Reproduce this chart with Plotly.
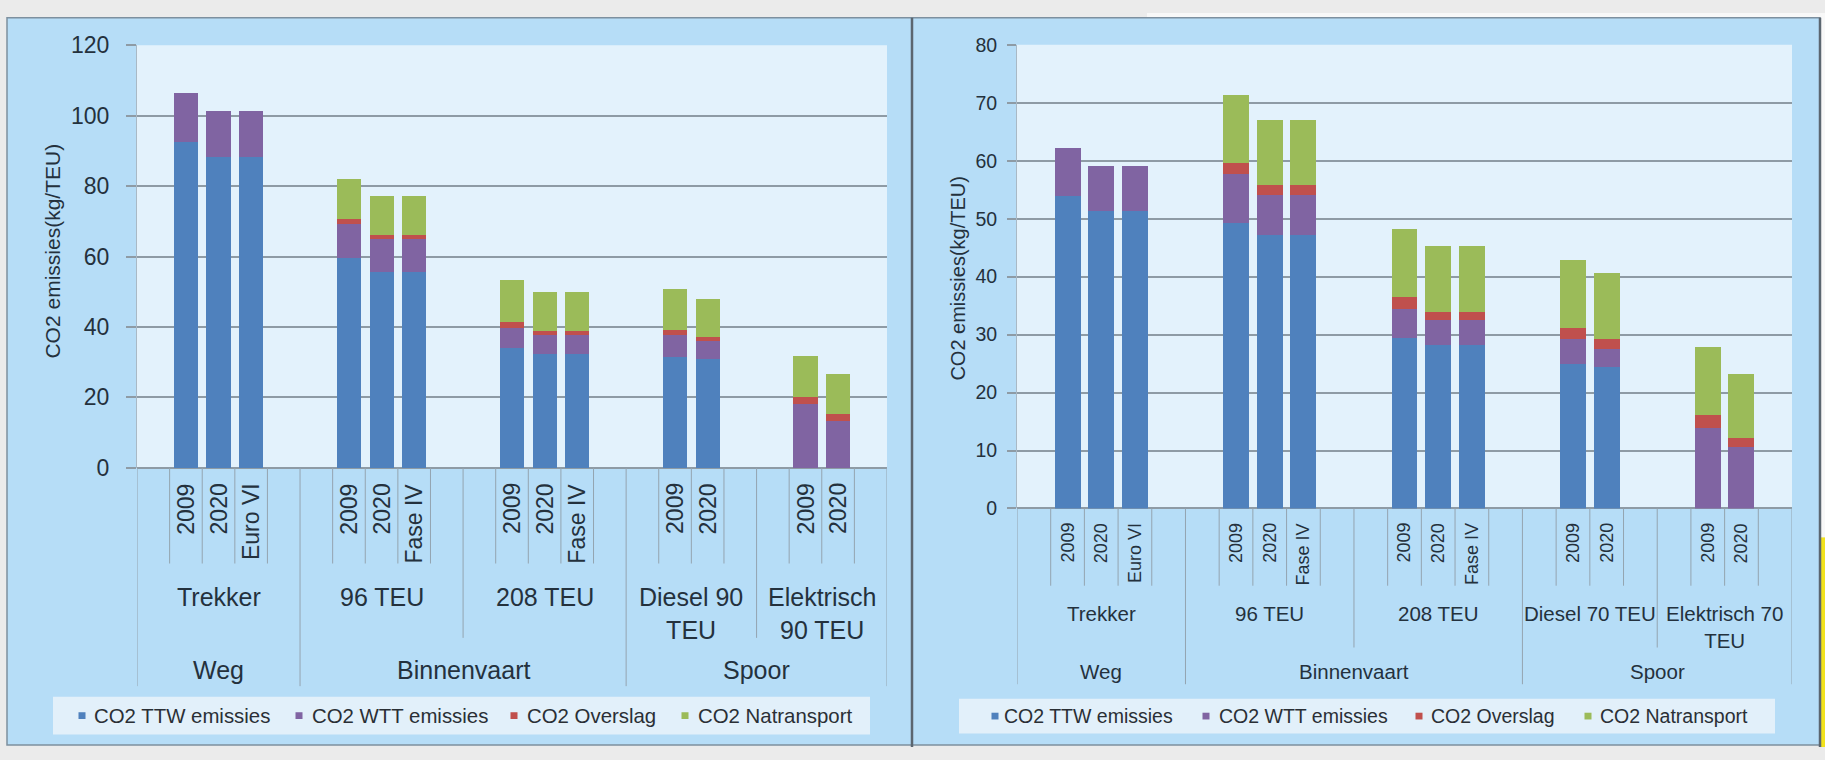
import plotly.graph_objects as go

W, H = 1825, 760

# ---- data -------------------------------------------------------------
SERIES = ["CO2 TTW emissies", "CO2 WTT emissies", "CO2 Overslag", "CO2 Natransport"]
COLORS = ["#4f81bd", "#8064a2", "#c0504d", "#9bbb59"]

groups = ["Weg", "Binnenvaart", "Spoor"]
subgroup_group = [0, 1, 1, 2, 2]
bar_labels = [
    ["2009", "2020", "Euro VI"],
    ["2009", "2020", "Fase IV"],
    ["2009", "2020", "Fase IV"],
    ["2009", "2020"],
    ["2009", "2020"],
]

subgroups_90 = ["Trekker", "96 TEU", "208 TEU", "Diesel 90<br>TEU", "Elektrisch<br>90 TEU"]
subgroups_70 = ["Trekker", "96 TEU", "208 TEU", "Diesel 70 TEU", "Elektrisch 70<br>TEU"]

# kg CO2 per TEU, one value per bar (Trekker x3, 96 TEU x3, 208 TEU x3, Diesel x2, Elektrisch x2)
ttw_90 = [92.4, 88.3, 88.3, 59.6, 55.5, 55.5, 34.0, 32.2, 32.2, 31.5, 30.8, 0, 0]
wtt_90 = [14.0, 13.1, 13.1, 9.5, 9.4, 9.4, 5.7, 5.5, 5.5, 6.2, 5.1, 18.0, 13.4]
overslag_90 = [0, 0, 0, 1.5, 1.3, 1.3, 1.8, 1.1, 1.1, 1.5, 1.1, 2.1, 1.9]
natransport_90 = [0, 0, 0, 11.4, 10.8, 10.8, 11.9, 11.2, 11.2, 11.6, 11.0, 11.6, 11.2]

ttw_70 = [53.9, 51.4, 51.4, 49.2, 47.2, 47.2, 29.4, 28.3, 28.3, 25.0, 24.4, 0, 0]
wtt_70 = [8.4, 7.8, 7.8, 8.6, 7.0, 7.0, 5.0, 4.2, 4.2, 4.2, 3.1, 13.9, 10.6]
overslag_70 = [0, 0, 0, 1.9, 1.6, 1.6, 2.1, 1.4, 1.4, 1.9, 1.7, 2.3, 1.6]
natransport_70 = [0, 0, 0, 11.7, 11.3, 11.3, 11.7, 11.4, 11.4, 11.8, 11.4, 11.6, 11.0]

y_title = "CO2 emissies(kg/TEU)"

# ---- styling ------------------------------------------------------------
FONT = "Liberation Sans, Arial, sans-serif"
TXT = "#24313d"
PANEL = "#b6ddf7"
PLOTBG = "#e3f2fc"
LEGBG = "#e2f0fa"
GRID = "#8e9ba5"
DIV = "#94a4b0"


def px(x):
    return x / W


def py(y):
    return 1 - y / H


# slot layout: every subgroup gets an empty slot before and after its bars
positions, sub_spans = [], []
start = 0
for labels in bar_labels:
    n = len(labels) + 2
    positions += [start + 1 + k for k in range(len(labels))]
    sub_spans.append((start, start + n))
    start += n
n_slots = start

group_spans = []
for g in range(len(groups)):
    spans = [s for s, gi in zip(sub_spans, subgroup_group) if gi == g]
    group_spans.append((spans[0][0], spans[-1][1]))

panels = [
    dict(xa="x", ya="y", subgroups=subgroups_90,
         values=[ttw_90, wtt_90, overslag_90, natransport_90],
         ymax=120, dtick=20, box=(137, 33.3, 887, 471), barw=0.74,
         tickfont=23, ticklen=10, standoff=12,
         year_top=485, year_font=23, year_bottom=570,
         sub_top=588, sub_font=25, sub_bottom=647,
         group_y=680, group_font=25, group_bottom=697,
         title_xy=(53, 247), title_font=21,
         legend_box=(53, 708, 870, 747), legend_y=727.5,
         legend_marks=[82, 299, 514, 685], legend_text=[92, 310, 525, 696],
         legend_font=20.4),
    dict(xa="x2", ya="y2", subgroups=subgroups_70,
         values=[ttw_70, wtt_70, overslag_70, natransport_70],
         ymax=80, dtick=10, box=(1017, 33, 1792, 513), barw=0.77,
         tickfont=19.5, ticklen=9, standoff=6,
         year_top=526, year_font=18, year_bottom=593,
         sub_top=608, sub_font=20.5, sub_bottom=657,
         group_y=682, group_font=20.5, group_bottom=695,
         title_xy=(958, 275), title_font=20,
         legend_box=(959, 710, 1775, 746), legend_y=728,
         legend_marks=[995, 1206, 1419, 1588], legend_text=[1002, 1217, 1429, 1598],
         legend_font=19.5),
]

fig = go.Figure()
shapes, annotations = [], []

# page background pieces and the two chart panels
shapes.append(dict(type="rect", xref="paper", yref="paper", x0=px(1147), x1=1, y0=py(6), y1=1,
                   fillcolor="#f8f8f8", line_width=0, layer="below"))
shapes.append(dict(type="rect", xref="paper", yref="paper", x0=px(1821), x1=1, y0=py(543), y1=py(0),
                   fillcolor="#f8f8f8", line_width=0, layer="below"))
shapes.append(dict(type="rect", xref="paper", yref="paper", x0=px(1821), x1=1, y0=0, y1=py(543),
                   fillcolor="#f2e21c", line_width=0, layer="below"))
for x0, x1 in [(7, 912), (912, 1820)]:
    shapes.append(dict(type="rect", xref="paper", yref="paper", x0=px(x0), x1=px(x1),
                       y0=py(758), y1=py(5), fillcolor=PANEL,
                       line=dict(color="#7d909f", width=1.5), layer="below"))
for xl in (912, 1820):
    shapes.append(dict(type="line", xref="paper", yref="paper", x0=px(xl), x1=px(xl),
                       y0=0, y1=py(5), line=dict(color="#5b6670", width=2.5), layer="below"))

layout_axes = {}
for i, p in enumerate(panels):
    x0, ytop, x1, ybot = p["box"]
    # plot area fill
    shapes.append(dict(type="rect", xref="paper", yref="paper", x0=px(x0), x1=px(x1),
                       y0=py(ybot), y1=py(ytop), fillcolor=PLOTBG, line_width=0, layer="below"))

    # stacked bars
    for name, color, vals in zip(SERIES, COLORS, p["values"]):
        fig.add_trace(go.Bar(x=positions, y=vals, name=name, width=p["barw"],
                             marker=dict(color=color, line=dict(width=0)),
                             xaxis=p["xa"], yaxis=p["ya"], showlegend=False,
                             hoverinfo="skip"))

    xkey = "xaxis" if i == 0 else "xaxis2"
    ykey = "yaxis" if i == 0 else "yaxis2"
    layout_axes[xkey] = dict(domain=[px(x0), px(x1)], range=[-0.5, n_slots - 0.5],
                             showticklabels=False, showgrid=False, zeroline=False,
                             ticks="", showline=False, anchor=p["ya"], fixedrange=True)
    layout_axes[ykey] = dict(domain=[py(ybot), py(ytop)], range=[0, p["ymax"]],
                             tick0=0, dtick=p["dtick"], showgrid=True, gridcolor=GRID,
                             gridwidth=1.5, zeroline=True, zerolinecolor=GRID,
                             zerolinewidth=1.5, ticks="outside", ticklen=p["ticklen"],
                             tickcolor=GRID, tickwidth=1.5, showline=True,
                             linecolor="#a9b9c5", linewidth=1,
                             ticklabelstandoff=p["standoff"],
                             tickfont=dict(family=FONT, size=p["tickfont"], color=TXT),
                             anchor=p["xa"], fixedrange=True)

    # bar labels (rotated)
    k = 0
    for labels in bar_labels:
        for lab in labels:
            annotations.append(dict(xref=p["xa"], yref="paper", x=positions[k], y=py(p["year_top"]),
                                    text=lab, textangle=-90, showarrow=False,
                                    xanchor="center", yanchor="top",
                                    font=dict(family=FONT, size=p["year_font"], color=TXT)))
            k += 1

    # subgroup and group labels
    for (s, e), lab in zip(sub_spans, p["subgroups"]):
        annotations.append(dict(xref=p["xa"], yref="paper", x=(s + e - 1) / 2, y=py(p["sub_top"]),
                                text=lab, showarrow=False, xanchor="center", yanchor="top",
                                font=dict(family=FONT, size=p["sub_font"], color=TXT)))
    for (s, e), lab in zip(group_spans, groups):
        annotations.append(dict(xref=p["xa"], yref="paper", x=(s + e - 1) / 2, y=py(p["group_y"]),
                                text=lab, showarrow=False, xanchor="center", yanchor="middle",
                                font=dict(family=FONT, size=p["group_font"], color=TXT)))

    # category divider lines of the three-level axis
    group_edges = {s for s, _ in group_spans} | {e for _, e in group_spans}
    sub_edges = {s for s, _ in sub_spans} | {e for _, e in sub_spans}
    for edge in range(n_slots + 1):
        if edge in group_edges:
            bottom = p["group_bottom"]
        elif edge in sub_edges:
            bottom = p["sub_bottom"]
        else:
            bottom = p["year_bottom"]
        shapes.append(dict(type="line", xref=p["xa"], yref="paper", x0=edge - 0.5, x1=edge - 0.5,
                           y0=py(ybot), y1=py(bottom), line=dict(color=DIV, width=1)))

    # y axis title
    tx, ty = p["title_xy"]
    annotations.append(dict(xref="paper", yref="paper", x=px(tx), y=py(ty), text=y_title,
                            textangle=-90, showarrow=False, xanchor="center", yanchor="middle",
                            font=dict(family=FONT, size=p["title_font"], color=TXT)))

    # legend
    lx0, ly0, lx1, ly1 = p["legend_box"]
    shapes.append(dict(type="rect", xref="paper", yref="paper", x0=px(lx0), x1=px(lx1),
                       y0=py(ly1), y1=py(ly0), fillcolor=LEGBG, line_width=0, layer="below"))
    for name, color, mx, tx in zip(SERIES, COLORS, p["legend_marks"], p["legend_text"]):
        shapes.append(dict(type="rect", xref="paper", yref="paper", x0=px(mx - 3.5), x1=px(mx + 3.5),
                           y0=py(p["legend_y"] + 3.5), y1=py(p["legend_y"] - 3.5),
                           fillcolor=color, line_width=0))
        annotations.append(dict(xref="paper", yref="paper", x=px(tx), y=py(p["legend_y"]),
                                text=name, showarrow=False, xanchor="left", yanchor="middle",
                                font=dict(family=FONT, size=p["legend_font"], color="#2a2f35")))

fig.update_layout(
    width=W, height=H, margin=dict(l=0, r=0, t=0, b=0),
    paper_bgcolor="#ebebeb", plot_bgcolor="rgba(0,0,0,0)",
    barmode="stack", bargap=0, showlegend=False,
    shapes=shapes, annotations=annotations,
    **layout_axes,
)

fig.write_html("out.html")
